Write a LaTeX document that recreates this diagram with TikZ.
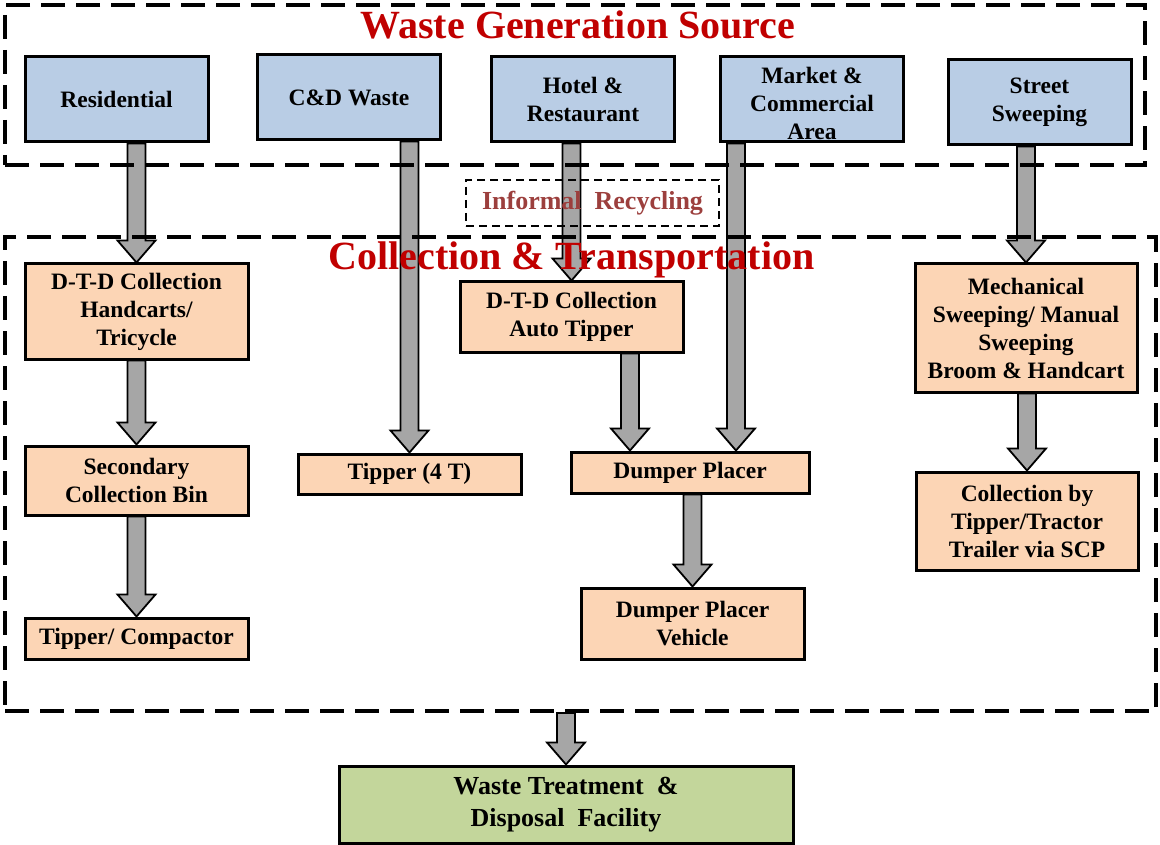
\documentclass[tikz,border=0pt]{standalone}
\usepackage{fontspec}
\setmainfont{Liberation Serif}
\usetikzlibrary{calc}

\definecolor{srcblue}{HTML}{B9CDE5}
\definecolor{steporange}{HTML}{FCD5B5}
\definecolor{treatgreen}{HTML}{C3D69B}
\definecolor{titlered}{HTML}{C00000}
\definecolor{recyclered}{HTML}{9C3F3D}
\definecolor{shaftgray}{HTML}{A6A6A6}

% block arrow, runs straight down at the x of the target
\newcommand\flowarrow[2]{%
  \draw[flow] let \p1=#1, \p2=#2 in
    (\x2-9pt,\y1) -- (\x2+9pt,\y1) -- (\x2+9pt,\y2+22pt) -- (\x2+19pt,\y2+22pt)
    -- (\x2,\y2) -- (\x2-19pt,\y2+22pt) -- (\x2-9pt,\y2+22pt) -- cycle;}

\begin{document}
\begin{tikzpicture}[
		x=1pt, y=-1pt,
		box/.style={rectangle, draw, line width=3pt, align=center, inner sep=2pt,
			font=\fontsize{23.5}{28}\selectfont\bfseries},
		src/.style={box, fill=srcblue, minimum width=183pt, minimum height=85pt},
		stepbox/.style={box, fill=steporange, minimum width=223pt},
		frame/.style={rectangle, draw, line width=4pt, dash pattern=on 24pt off 11pt},
		flow/.style={draw=black, fill=shaftgray, line width=1.8pt, line join=miter},
		title/.style={text=titlered, anchor=base, font=\fontsize{40}{44}\selectfont\bfseries}
	]
  \useasboundingbox (0,0) rectangle (1160,845);

  % sources
  \node (src_res) [src] at (116.5, 99.5) {Residential};
  \node (src_cd) [src] at (349, 97.5) {C\&D Waste};
  \node (src_hotel) [src] at (583, 99.5) {Hotel \&\\Restaurant};
  \node (src_market) [src, text height=81pt, text depth=0pt] at (812, 99.5) {Market \&\\Commercial\\Area};
  \node (src_street) [src] at (1039.5, 102.5) {Street\\Sweeping};

  % collection steps
  \node (dtd_hand) [stepbox, minimum height=95pt] at (136.5, 311.5) {D-T-D Collection\\Handcarts/\\Tricycle};
  \node (sec_bin) [stepbox, minimum height=69pt] at (136.5, 480.5) {Secondary\\Collection Bin};
  \node (tip_comp) [stepbox, minimum height=41pt] at (136.5, 638.5) {Tipper/ Compactor};
  \node (tip_4t) [stepbox, minimum height=40pt] at (409.5, 474) {Tipper (4 T)};
  \node (dtd_auto) [stepbox, minimum height=70pt] at (571.5, 317) {D-T-D Collection\\Auto Tipper};
  \node (dump) [stepbox, minimum width=238pt, minimum height=41pt] at (690, 472.5) {Dumper Placer};
  \node (dump_veh) [stepbox, minimum height=71pt] at (692.5, 623.5) {Dumper Placer\\Vehicle};
  \node (mech) [stepbox, minimum width=222pt, minimum height=128pt] at (1026, 328) {Mechanical\\Sweeping/ Manual\\Sweeping\\Broom \& Handcart};
  \node (coll_scp) [stepbox, minimum width=222pt, minimum height=98pt] at (1027, 521) {Collection by\\Tipper/Tractor\\Trailer via SCP};

  \node (treat) [box, fill=treatgreen, minimum width=454pt, minimum height=77pt,
    font=\fontsize{26}{32}\selectfont\bfseries] at (566, 804.5) {Waste Treatment~ \&\\Disposal~ Facility};

  \flowarrow{(src_res.south)}{(dtd_hand.north)}
  \flowarrow{(dtd_hand.south)}{(sec_bin.north)}
  \flowarrow{(sec_bin.south)}{(tip_comp.north)}
  \flowarrow{(src_cd.south)}{(tip_4t.north)}
  \flowarrow{(src_hotel.south)}{(dtd_auto.north)}
  \flowarrow{(src_market.south)}{([xshift=46pt]dump.north)}
  \flowarrow{(dtd_auto.south)}{([xshift=-60pt]dump.north)}
  \flowarrow{(dump.south)}{(dump_veh.north)}
  \flowarrow{(src_street.south)}{(mech.north)}
  \flowarrow{(mech.south)}{(coll_scp.north)}

  % dashed frames and their titles
  \node (gen) [frame, minimum width=1140pt, minimum height=160pt] at (575, 85) {};
  \node (coll) [frame, minimum width=1151pt, minimum height=474pt] at (580.5, 474) {};
  \node (informal) [rectangle, draw, line width=2pt, dash pattern=on 8pt off 5pt,
    minimum width=253pt, minimum height=46pt, text=recyclered,
    font=\fontsize{26}{28}\selectfont\bfseries] at (592.5, 203) {Informal~ Recycling};
  \node (gen_title) [title] at (578, 39) {Waste Generation Source};
  \node (coll_title) [title] at (571.5, 270) {Collection \& Transportation};

  \flowarrow{(coll.south)}{(treat.north)}
\end{tikzpicture}
\end{document}
